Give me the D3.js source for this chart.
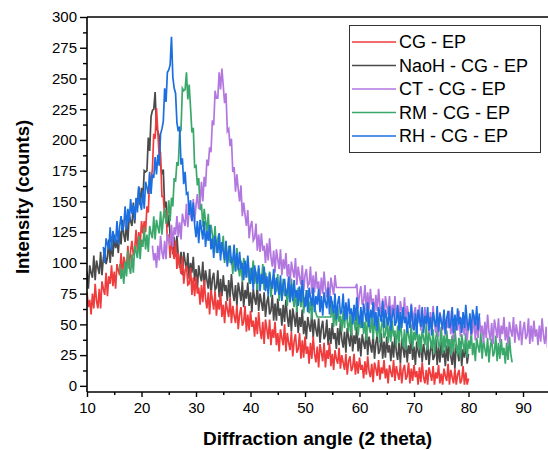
<!DOCTYPE html>
<html>
<head>
<meta charset="utf-8">
<script src="https://cdn.jsdelivr.net/npm/d3@7"></script>
<style>
  body { margin: 0; background: #fff; }
  text { font-family: Arial, "Liberation Sans", sans-serif; fill: #000; }
</style>
</head>
<body>
<div id="chart"></div>
<script>
// series names and colours, in legend order
const seriesNames = ["CG - EP", "NaoH - CG - EP", "CT - CG - EP", "RM - CG - EP", "RH - CG - EP"];
const seriesColors = ["#f03c3c", "#4a4a4a", "#b377e0", "#3aa86b", "#1b6fe0"];

// first angle of each scan, step 0.25 deg
const startAngles = [10, 10, 22, 16, 13];
const angleStep = 0.25;

// intensity (counts), one row = 5 deg
const cgEp = [
  76,64,70,58,75,63,83,69,63,79,63,85,79,74,92,73,89,83,98,81,
  93,79,99,94,90,108,89,105,100,96,114,95,110,118,106,111,127,108,125,114,
  134,124,134,125,146,141,170,168,176,205,201,226,206,186,188,154,154,137,143,118,
  123,104,119,110,103,118,95,108,99,91,105,83,94,98,82,83,96,74,88,73,
  89,75,80,66,82,68,86,71,63,76,58,78,70,62,77,57,70,62,76,56,
  66,51,69,62,56,72,51,65,57,51,66,46,58,64,49,52,65,44,58,45,
  61,48,53,40,56,42,60,46,38,52,34,54,46,38,54,33,46,39,52,33,
  43,28,46,39,33,50,28,43,35,29,44,24,36,42,27,30,43,22,37,23,
  40,26,32,18,35,22,40,26,19,32,15,34,27,20,35,15,29,22,35,16,
  26,13,29,22,18,31,14,25,19,13,26,9,20,24,12,15,26,9,20,10,
  23,13,17,6,20,9,24,12,7,18,3,19,14,8,21,5,15,10,21,6,
  14,2,17,11,7,21,4,16,10,5,18,2,13,17,5,8,19,2,14,4,
  17,7,12,1,15,3,19,7,2,13,1,15,10,4,16,1,11,6,17,2,
  10,1,14,8,4,18,1,13,7,2,14,1,9,13,2,5,16,1,11,1,
  6
];
const naohCgEp = [
  93,79,98,92,88,106,86,102,96,91,109,90,104,112,99,104,119,100,116,105,
  123,112,119,108,126,115,135,123,117,133,118,139,134,130,149,132,149,145,162,147,
  161,151,175,174,175,202,191,219,224,225,239,209,207,203,179,172,176,145,150,129,
  139,122,124,107,121,105,122,105,96,109,90,109,101,93,108,87,100,92,105,85,
  95,79,98,90,85,101,79,94,86,79,95,74,87,92,78,80,94,72,87,73,
  90,77,82,69,86,72,91,76,69,82,65,84,77,69,85,64,78,71,84,65,
  76,60,79,71,66,82,61,75,68,61,76,56,68,73,58,61,74,53,67,53,
  71,57,63,49,66,52,70,56,48,62,44,63,56,48,63,43,56,48,62,42,
  53,38,56,49,44,60,39,54,46,40,55,35,47,53,38,41,54,33,47,34,
  51,38,43,30,47,33,52,38,31,44,27,47,39,32,48,28,41,34,48,28,
  39,24,42,35,30,47,25,40,33,27,42,22,35,41,26,29,43,22,36,23,
  40,27,33,20,36,23,42,28,21,35,18,38,30,23,39,19,33,26,40,21,
  32,17,36,28,23,40,19,34,27,21,37,17,29,35,21,24,38,17,32,19,
  36,23,29,16,33,20,38,24,17,31,14,34,27,20,36,16,30,23,37,18,
  26
];
const ctCgEp = [
  114,102,108,96,114,102,122,109,103,118,103,124,119,114,131,113,129,123,138,121,
  133,119,140,134,130,148,129,145,139,134,152,133,147,156,144,149,166,150,170,162,
  184,179,194,190,216,212,240,234,234,255,241,258,244,230,238,207,209,195,201,174,
  178,158,172,160,150,163,138,149,139,130,143,120,130,134,118,120,132,110,123,109,
  124,110,114,100,116,102,120,105,97,110,92,111,103,95,111,90,103,95,108,89,
  99,83,101,94,88,104,82,97,89,82,98,77,90,95,81,83,97,75,90,76,
  93,79,85,71,88,75,93,79,72,85,68,88,81,74,90,80,80,80,80,80,
  80,80,80,80,80,80,80,80,80,80,83,63,75,81,66,69,82,61,76,62,
  79,66,71,58,74,61,79,65,58,71,53,73,65,58,73,53,66,59,73,53,
  65,50,69,61,56,72,51,65,58,51,67,46,59,64,50,52,66,45,59,46,
  64,51,56,43,60,46,65,51,43,57,40,60,52,45,61,41,55,47,61,42,
  53,38,57,50,45,61,40,55,47,41,57,37,50,56,41,44,58,37,52,39,
  56,43,49,35,52,39,58,44,37,51,34,54,47,39,55,35,49,42,56,37,
  48,33,52,45,40,56,35,50,43,37,53,33,46,52,38,41,55,34,49,36,
  53,40,46,33,49,36,55,41,34,48,31,51,44
];
const rmCgEp = [
  99,87,95,83,101,89,110,97,91,107,92,114,109,104,122,103,119,113,129,111,
  123,109,130,124,120,138,119,135,129,124,142,123,137,144,132,136,151,134,153,146,
  169,166,182,179,206,208,242,240,241,255,233,245,226,206,210,178,179,163,169,143,
  148,129,144,134,125,140,118,131,123,115,130,108,120,124,108,110,122,100,113,99,
  114,100,105,91,107,93,112,97,89,102,85,104,96,88,104,83,96,89,102,83,
  93,78,96,89,83,99,78,92,84,78,93,72,85,90,75,78,91,69,84,70,
  87,73,79,65,82,68,87,72,64,78,60,80,72,64,80,59,72,65,78,59,
  69,54,72,65,59,56,56,56,56,56,56,56,56,56,56,56,69,48,62,49,
  65,52,57,44,61,47,66,52,44,58,41,60,53,45,61,41,54,47,61,42,
  52,37,56,48,43,60,38,53,46,40,55,35,48,54,39,42,56,35,49,36,
  53,40,45,32,49,35,54,40,32,46,29,49,41,34,50,30,44,37,50,31,
  42,27,46,39,33,50,29,44,37,30,46,26,39,45,31,34,48,26,41,28,
  45,32,38,25,41,28,47,33,25,39,22,42,34,27,43,23,37,30,44,25,
  35,20,39,32,27,43,22,37,30,24,39,19,32,38,24,27,41,20,35,22,
  38,25,31,18,35,21,40,26,19
];
const rhCgEp = [
  113,100,120,115,111,129,110,126,120,116,134,115,130,138,126,130,146,127,144,133,
  152,140,147,135,153,141,162,149,143,159,144,166,161,156,174,156,172,169,186,172,
  188,179,205,209,215,242,231,255,257,261,284,251,242,238,214,207,211,180,185,164,
  174,156,157,139,151,134,149,131,121,134,116,135,127,119,134,113,126,118,131,111,
  120,104,122,114,108,124,102,117,109,102,118,97,109,114,100,102,115,93,108,94,
  109,95,100,86,102,88,106,91,83,96,78,98,90,83,98,77,91,83,97,77,
  89,73,92,84,79,95,74,88,81,74,90,69,82,87,73,76,89,68,83,69,
  86,72,78,65,81,68,86,72,64,78,60,80,72,65,80,60,73,66,79,60,
  73,57,76,68,63,80,58,73,66,59,75,54,67,73,58,61,75,53,68,54,
  71,58,63,50,66,53,72,58,50,64,47,67,59,52,68,48,62,55,68,49,
  60,45,64,57,52,69,47,62,55,49,65,45,57,63,49,52,66,45,60,47,
  64,51,56,43,60,47,66,52,45,59,42,62,55,48,64,43,57,50,64,45,
  56,41,60,53,48,65,44,59,52,46,62,42,55,61,47,50,64,43,58,45,
  63,50,56,43,60,47,66,52,45,59,42,62,56,49,65,45,59
];
const seriesValues = [cgEp, naohCgEp, ctCgEp, rmCgEp, rhCgEp];

// axis ticks
const xTicks = [10, 20, 30, 40, 50, 60, 70, 80, 90];
const xMinorTicks = [15, 25, 35, 45, 55, 65, 75, 85];
const yTicks = [0, 25, 50, 75, 100, 125, 150, 175, 200, 225, 250, 275, 300];
const yMinorTicks = [12.5, 37.5, 62.5, 87.5, 112.5, 137.5, 162.5, 187.5, 212.5, 237.5, 262.5, 287.5];

// drawing order (last on top)
const drawOrder = [1, 0, 3, 2, 4];

let width = 548, height = 450;
var margin = {top: 17, right: 1, bottom: 58, left: 87};

let svg = d3.select("#chart")
    .append("svg")
    .attr("width", width)
    .attr("height", height);

// scales
var xScale = d3.scaleLinear()
    .domain([10, 94.4])
    .range([margin.left, width - margin.right]);
var yScale = d3.scaleLinear()
    .domain([-5, 300])
    .range([height - margin.bottom, margin.top]);

// clip so the CT scan stops at the frame
svg.append("clipPath").attr("id", "plotClip")
    .append("rect")
    .attr("x", margin.left).attr("y", margin.top)
    .attr("width", width - margin.right - margin.left)
    .attr("height", height - margin.bottom - margin.top);

// line generator
var line = d3.line()
    .x(d => xScale(d[0]))
    .y(d => yScale(d[1]));

let plot = svg.append("g").attr("clip-path", "url(#plotClip)");
drawOrder.forEach(function(i) {
    let pts = seriesValues[i].map((v, k) => [startAngles[i] + k * angleStep, v]);
    plot.append("path")
        .datum(pts)
        .attr("fill", "none")
        .attr("stroke", seriesColors[i])
        .attr("stroke-width", 1.7)
        .attr("d", line);
});

// x axis
let xAxis = svg.append("g")
    .attr("transform", "translate(0," + yScale(-5) + ")")
    .call(d3.axisBottom(xScale).tickValues(xTicks).tickSize(5).tickPadding(5).tickFormat(d3.format("d")));
svg.append("g")
    .attr("transform", "translate(0," + yScale(-5) + ")")
    .call(d3.axisBottom(xScale).tickValues(xMinorTicks).tickSize(3).tickFormat(""))
    .select(".domain").remove();

// y axis
let yAxis = svg.append("g")
    .attr("transform", "translate(" + xScale(10) + ",0)")
    .call(d3.axisLeft(yScale).tickValues(yTicks).tickSize(7).tickPadding(3).tickFormat(d3.format("d")));
svg.append("g")
    .attr("transform", "translate(" + xScale(10) + ",0)")
    .call(d3.axisLeft(yScale).tickValues(yMinorTicks).tickSize(4).tickFormat(""))
    .select(".domain").remove();

svg.selectAll(".domain").attr("stroke", "#000").attr("stroke-width", 1.6);
svg.selectAll(".tick line").attr("stroke", "#000").attr("stroke-width", 1.4);
svg.selectAll(".tick text").style("font-size", "15px").attr("fill", "#000");
xAxis.select(".domain").attr("d", "M" + xScale(10) + ",0H" + (width));
yAxis.select(".domain").attr("d", "M0," + yScale(-5) + "V" + yScale(300));

// top frame
svg.append("line")
    .attr("x1", xScale(10)).attr("x2", width)
    .attr("y1", yScale(300)).attr("y2", yScale(300))
    .attr("stroke", "#000").attr("stroke-width", 1.6);

// axis titles
svg.append("text")
    .attr("x", (xScale(10) + width) / 2)
    .attr("y", 445)
    .attr("text-anchor", "middle")
    .style("font-size", "19px")
    .style("font-weight", "bold")
    .text("Diffraction angle (2 theta)");
svg.append("text")
    .attr("transform", "translate(29,197) rotate(-90)")
    .attr("text-anchor", "middle")
    .style("font-size", "18.5px")
    .style("font-weight", "bold")
    .text("Intensity (counts)");

// legend
let legend = svg.append("g");
legend.append("rect")
    .attr("x", 349.5).attr("y", 25.5)
    .attr("width", 191).attr("height", 127)
    .attr("fill", "#fff").attr("stroke", "#333").attr("stroke-width", 1);
seriesNames.forEach(function(name, i) {
    let y = 42 + i * 23.5;
    legend.append("line")
        .attr("x1", 352).attr("x2", 396)
        .attr("y1", y).attr("y2", y)
        .attr("stroke", seriesColors[i]).attr("stroke-width", 1.5);
    legend.append("text")
        .attr("x", 399).attr("y", y)
        .attr("dy", "0.35em")
        .style("font-size", "18px")
        .text(name);
});
</script>
</body>
</html>
